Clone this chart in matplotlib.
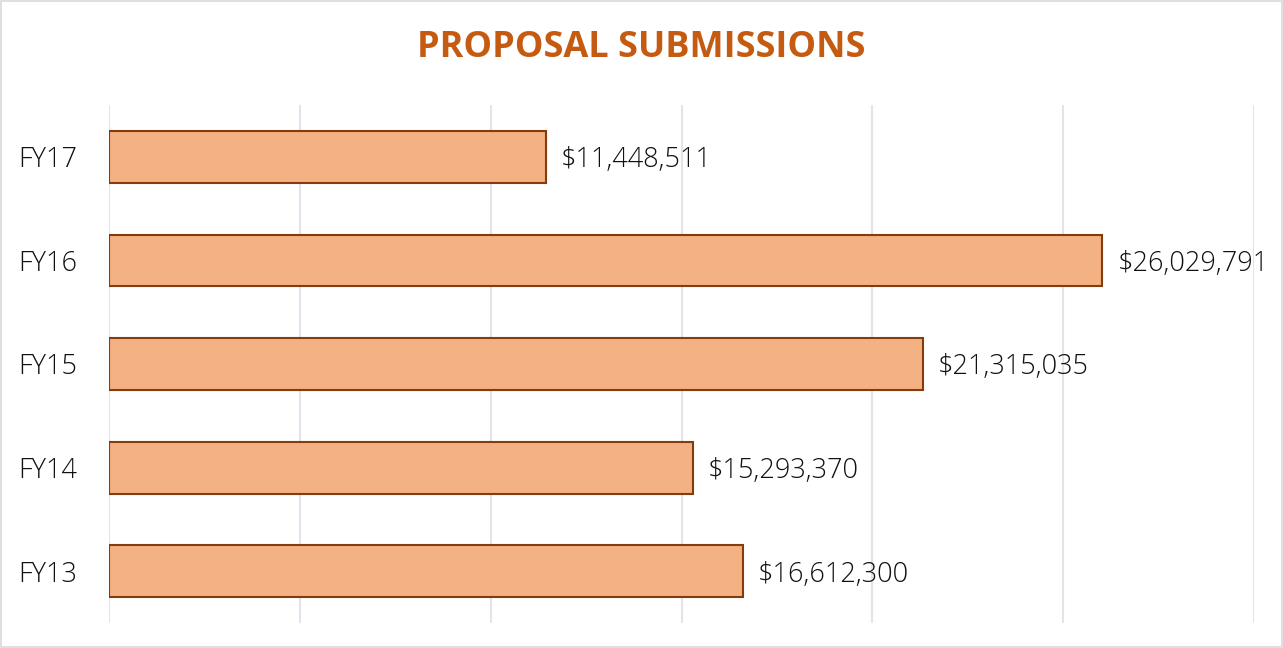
import matplotlib
matplotlib.use('Agg')
import matplotlib.pyplot as plt
from matplotlib.patches import Rectangle

categories = ['FY13', 'FY14', 'FY15', 'FY16', 'FY17']
values = [16612300, 15293370, 21315035, 26029791, 11448511]
ticks = [0, 5000000, 10000000, 15000000, 20000000, 25000000, 30000000]

plt.rcParams['font.family'] = ['Open Sans', 'DejaVu Sans']

fig = plt.figure(figsize=(12.83, 6.48), dpi=100)
fig.patch.set_facecolor('white')
ax = fig.add_axes([109 / 1283, 1 - 623 / 648, (1254 - 109) / 1283, (623 - 105) / 648])

# 背景の枠線
fig.patches.append(Rectangle((0.001, 0.001), 0.998, 0.997, transform=fig.transFigure,
                             fill=False, edgecolor='#D9D9D9', linewidth=1.2))

ax.barh(categories, values, height=0.5, color='#F4B183', edgecolor='#843C0C', linewidth=1.5, zorder=3)
for i, v in enumerate(values):
    ax.text(v + 400000, i, '${:,}'.format(v), va='center_baseline', ha='left',
            fontsize=19.5, fontweight='light', color='#111111', zorder=4)

ax.set_xlim(0, 30000000)
ax.set_ylim(-0.5, 4.5)
ax.set_xticks(ticks)
ax.set_xticklabels([])
ax.tick_params(axis='x', length=0)
ax.tick_params(axis='y', length=0, labelsize=19.5, labelcolor='#111111', pad=65.5)
for lbl in ax.get_yticklabels():
    lbl.set_horizontalalignment('left')
    lbl.set_verticalalignment('center_baseline')
    lbl.set_fontweight('light')
ax.grid(axis='x', color='#E1E4EA', linewidth=1.5, zorder=0)
for s in ax.spines.values():
    s.set_visible(False)

fig.text(0.5, 1 - 48 / 648, 'PROPOSAL SUBMISSIONS', ha='center', va='center',
         fontsize=26, fontweight='bold', color='#C55A11')

fig.savefig('out.png', dpi=100)
